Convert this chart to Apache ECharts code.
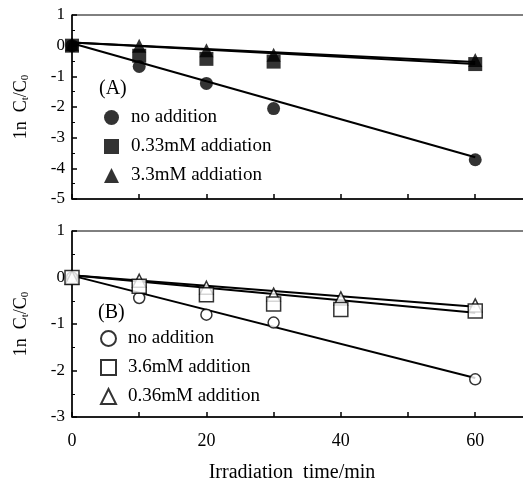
<!DOCTYPE html>
<html>
<head>
<meta charset="UTF-8">
<title>ln Ct/C0 vs irradiation time</title>
<script src="https://cdn.jsdelivr.net/npm/echarts@6/dist/echarts.min.js"></script>
<style>
  body { margin: 0; background: #fff; }
  #chart { width: 523px; height: 483px; }
</style>
</head>
<body>
<div id="chart"></div>
<script>
// panel A
const timeA = [0, 10, 20, 30, 60];
const noAddA = [0, -0.68, -1.23, -2.05, -3.72];
const sq033A = [0, -0.33, -0.43, -0.52, -0.6];
const tri33A = [0.05, 0.0, -0.15, -0.3, -0.47];
// fitted lines (start, end)
const fitNoAddA = [0.08, -3.64];
const fitSqA = [0.1, -0.6];
const fitTriA = [0.1, -0.53];

// panel B
const timeB = [0, 10, 20, 30, 40, 60];
const noAddB = [0, -0.44, -0.8, -0.97, null, -2.19];
const sq36B = [0, -0.19, -0.37, -0.57, -0.69, -0.72];
const tri036B = [0, -0.07, -0.22, -0.37, -0.45, -0.6];
const fitNoAddB = [0.04, -2.16];
const fitSqB = [0.05, -0.76];
const fitTriB = [0.05, -0.63];
const fitX = [0, 60];

const legendA = ['no addition', '0.33mM addiation', '3.3mM addiation'];
const legendB = ['no addition', '3.6mM addition', '0.36mM addition'];

const serif = 'Liberation Serif';

function pts(xs, ys) {
    return xs.map((x, i) => [x, ys[i]]).filter(p => p[1] !== null);
}

function fitLine(idx, ends) {
    return {
        type: 'line', xAxisIndex: idx, yAxisIndex: idx,
        data: pts(fitX, ends), symbol: 'none', silent: true,
        lineStyle: { color: '#000', width: 2 }, z: 2
    };
}

function dots(idx, name, ys, xs, symbol, size, filled) {
    return {
        type: 'scatter', name: name, xAxisIndex: idx, yAxisIndex: idx,
        data: pts(xs, ys), symbol: symbol, symbolSize: size, z: 3,
        itemStyle: filled ? { color: '#000' } : { color: '#fff', borderColor: '#000', borderWidth: 1.5 }
    };
}

function xAx(idx, labels) {
    return {
        type: 'value', gridIndex: idx, min: 0, max: 68, interval: 10,
        name: labels ? 'Irradiation  time/min' : '',
        nameLocation: 'middle', nameGap: 46,
        nameTextStyle: { fontFamily: serif, fontSize: 20, color: '#000', padding: [0, 17, 0, 0] },
        axisLine: { onZero: false, lineStyle: { color: '#000', width: 1.5 } },
        axisTick: { inside: true, length: 5, lineStyle: { color: '#000', width: 1.5 } },
        axisLabel: {
            show: labels, fontFamily: serif, fontSize: 18, color: '#000', margin: 15,
            formatter: v => (v % 20 === 0 ? v : '')
        },
        splitLine: { show: false }
    };
}

function yAx(idx, min) {
    return {
        type: 'value', gridIndex: idx, min: min, max: 1, interval: 1,
        name: '1n  C{s|t}/C{s|0}', nameLocation: 'middle', nameGap: 41,
        nameTextStyle: {
            fontFamily: serif, fontSize: 18, color: '#000',
            rich: { s: { fontFamily: serif, fontSize: 11, color: '#000', verticalAlign: 'bottom', padding: [8, 0, 0, 0] } }
        },
        axisLine: { onZero: false, lineStyle: { color: '#000', width: 1.5 } },
        axisTick: { inside: true, length: 5, lineStyle: { color: '#000', width: 1.5 } },
        minorTick: { show: true, splitNumber: 2, length: 3, lineStyle: { color: '#000' } },
        axisLabel: { fontFamily: serif, fontSize: 17, color: '#000', margin: 7 },
        splitLine: { show: false }
    };
}

function legend(names, left, top) {
    return {
        orient: 'vertical', left: left, top: top, itemWidth: 15, itemHeight: 15, itemGap: 10,
        selectedMode: false,
        data: names,
        formatter: n => n.slice(2),
        textStyle: { fontFamily: serif, fontSize: 19, color: '#000', padding: [0, 0, 0, 7] }
    };
}

const chart = echarts.init(document.getElementById('chart'));
chart.setOption({
    animation: false,
    backgroundColor: '#fff',
    title: [
        { text: '(A)', left: 94, top: 74, textStyle: { fontFamily: serif, fontSize: 20, fontWeight: 'normal', color: '#000' } },
        { text: '(B)', left: 93, top: 298, textStyle: { fontFamily: serif, fontSize: 20, fontWeight: 'normal', color: '#000' } }
    ],
    grid: [
        { left: 72, top: 15, width: 457, height: 184, show: true, borderColor: '#000', borderWidth: 1, outerBoundsMode: 'none' },
        { left: 72, top: 231, width: 457, height: 186, show: true, borderColor: '#000', borderWidth: 1, outerBoundsMode: 'none' }
    ],
    legend: [
        legend(legendA.map(n => 'A:' + n), 99, 103),
        legend(legendB.map(n => 'B:' + n), 95, 324)
    ],
    xAxis: [xAx(0, false), xAx(1, true)],
    yAxis: [yAx(0, -5), yAx(1, -3)],
    series: [
        fitLine(0, fitNoAddA), fitLine(0, fitSqA), fitLine(0, fitTriA),
        dots(0, 'A:' + legendA[0], noAddA, timeA, 'circle', 13, true),
        dots(0, 'A:' + legendA[1], sq033A, timeA, 'rect', 14, true),
        dots(0, 'A:' + legendA[2], tri33A, timeA, 'triangle', 14, true),
        fitLine(1, fitNoAddB), fitLine(1, fitSqB), fitLine(1, fitTriB),
        dots(1, 'B:' + legendB[0], noAddB, timeB, 'circle', 11, false),
        dots(1, 'B:' + legendB[2], tri036B, timeB, 'triangle', 13, false),
        dots(1, 'B:' + legendB[1], sq36B, timeB, 'rect', 14, false)
    ]
});
</script>
</body>
</html>
